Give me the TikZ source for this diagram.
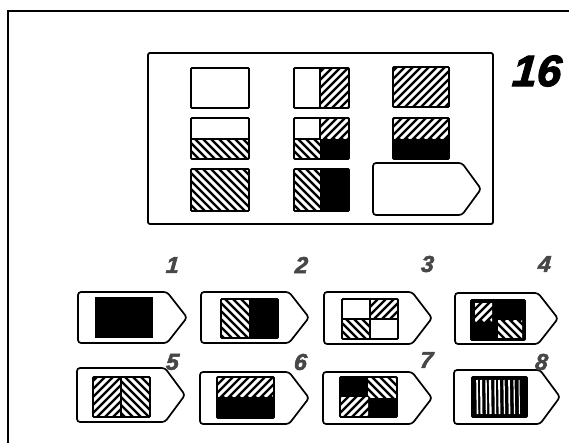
\documentclass[tikz,border=0pt]{standalone}
\usepackage{fontspec}
\newfontfamily\numfont[FakeBold=2.5,FakeSlant=0.08]{Liberation Sans}
\tikzset{
  cellline/.style={line width=1.8pt, rounded corners=1pt},
  pentline/.style={line width=1.7pt, rounded corners=3pt},
  numlabel/.style={inner sep=0pt, font=\numfont\bfseries\itshape\fontsize{23}{23}\selectfont, text=black!72},
  biglabel/.style={inner sep=0pt, font=\numfont\bfseries\itshape\fontsize{44}{44}\selectfont, text=black},
  stripe/.style={white, line width=2.9pt},
}
\newcommand\hatchNE[4]{\begin{scope}\clip (#1,#2) rectangle (#3,#4);\fill[black] (#1,#2) rectangle (#3,#4);
  \foreach \k in {-72,-64,...,72}{\draw[stripe] (#1+\k,#4) -- ++(90,-90);}\end{scope}}
\newcommand\hatchSE[4]{\begin{scope}\clip (#1,#2) rectangle (#3,#4);\fill[black] (#1,#2) rectangle (#3,#4);
  \foreach \k in {-72,-64,...,72}{\draw[stripe] (#1+\k,#2) -- ++(90,90);}\end{scope}}
\newcommand\blk[4]{\fill[black] (#1,#2) rectangle (#3,#4);}
\newcommand\cellbox[4]{\draw[cellline] (#1,#2) rectangle (#3,#4);}
% x1 y1 x2 y2 xpoint
\newcommand\penta[5]{\draw[pentline] (#1,#2) -- (#5,#2) -- (#3,{(#2+#4)/2}) -- (#5,#4) -- (#1,#4) -- cycle;}
\begin{document}
\begin{tikzpicture}[x=1pt,y=-1pt]
\useasboundingbox (0,0) rectangle (569,443);
% outer frame
\draw[line width=1.3pt] (8,443) -- (8,11) -- (569,11);
% matrix panel
\draw[line width=1.8pt, rounded corners=2pt] (148,53) rectangle (493,224);
% row 1
\cellbox{191}{68}{249}{108}
\hatchNE{320}{68}{349}{108}
\cellbox{294}{68}{349}{108}
\draw[line width=1.2pt] (320,68) -- (320,108);
\hatchNE{393}{67}{449}{107}
\cellbox{393}{67}{449}{107}
% row 2
\hatchSE{191}{139}{249}{159}
\cellbox{191}{118}{249}{159}
\draw[line width=1.2pt] (191,139) -- (249,139);
\hatchNE{320}{118}{349}{139}
\hatchSE{294}{139}{320}{159}
\blk{320}{139}{349}{159}
\cellbox{294}{118}{349}{159}
\draw[line width=1.2pt] (294,139) -- (320,139) (320,118) -- (320,139);
\hatchNE{393}{118}{449}{139}
\blk{393}{139}{449}{159}
\cellbox{393}{118}{449}{159}
% row 3
\hatchSE{191}{169}{249}{211}
\cellbox{191}{169}{249}{211}
\hatchSE{294}{169}{320}{211}
\blk{320}{169}{349}{211}
\cellbox{294}{169}{349}{211}
\penta{373}{163}{481}{215}{462}
\node[biglabel] (t16) at (536,71) {16};
% option 1
\penta{78}{292}{187}{343}{167}
\blk{95}{297}{153}{338}
\node[numlabel] (n1) at (172,265) {1};
% option 2
\penta{201}{292}{309}{343}{289}
\hatchSE{221}{299}{249}{338}
\blk{249}{299}{278}{338}
\cellbox{221}{299}{278}{338}
\node[numlabel] (n2) at (301,265) {2};
% option 3
\penta{324}{292}{432}{344}{412}
\hatchNE{370}{299}{398}{319}
\hatchSE{342}{319}{370}{339}
\cellbox{342}{299}{398}{339}
\draw[line width=1.2pt] (342,319) -- (398,319) (370,299) -- (370,339);
\node[numlabel] (n3) at (427,264) {3};
% option 4
\penta{455}{293}{558}{344}{538}
\blk{471}{300}{525}{340}
\hatchNE{475}{303}{492}{321}
\hatchSE{498}{320}{522}{337}
\blk{471}{300}{475}{340}
\cellbox{471}{300}{525}{340}
\node[numlabel] (n4) at (544,264) {4};
% option 5
\penta{77}{368}{185}{422}{165}
\hatchNE{93}{377}{121}{417}
\hatchSE{121}{377}{150}{417}
\cellbox{93}{377}{150}{417}
\draw[line width=1.8pt] (121,377) -- (121,417);
\node[numlabel] (n5) at (172,362) {5};
% option 6
\penta{200}{372}{309}{424}{289}
\hatchNE{217}{377}{274}{397}
\blk{217}{397}{274}{418}
\cellbox{217}{377}{274}{418}
\node[numlabel] (n6) at (300,362) {6};
% option 7
\penta{323}{372}{432}{424}{412}
\blk{340}{377}{397}{417}
\hatchSE{368}{377}{397}{397}
\hatchNE{340}{397}{368}{417}
\cellbox{340}{377}{397}{417}
\node[numlabel] (n7) at (426,360) {7};
% option 8
\penta{454}{370}{560}{424}{540}
\blk{472}{377}{527}{417}
\foreach \xx/\ww in {477/1.6, 481/2.0, 486/1.4, 490/2.2, 495/1.5, 499/1.8, 504/1.3, 509/1.7, 514/1.2, 519/1.0}
  {\draw[white, line width=\ww pt] (\xx,380) -- (\xx+0.5,414);}
\cellbox{472}{377}{527}{417}
\node[numlabel] (n8) at (541,362) {8};
\end{tikzpicture}
\end{document}
